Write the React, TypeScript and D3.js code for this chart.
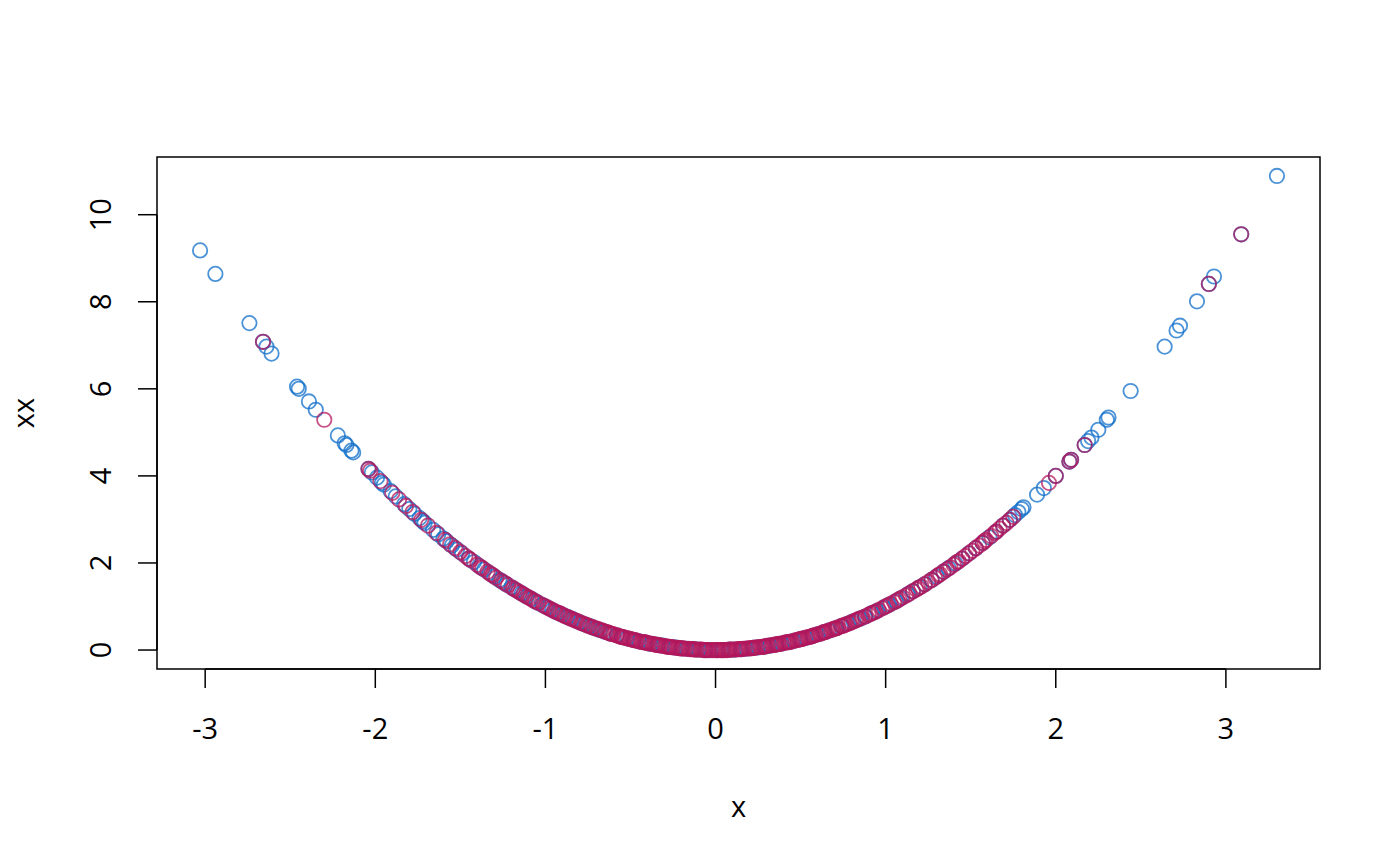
import React from "react";
import * as d3 from "d3";

// x and xx values
const blueX = [
  -3.03, -2.94, -2.74, -2.66, -2.64, -2.61, -2.46, -2.45, -2.39, -2.35, -2.22, -2.18, -2.17, -2.14, -2.13,
  -2.04, -2.02, -1.99, -1.96, -1.95, -1.91, -1.88, -1.83, -1.8, -1.77, -1.74, -1.72, -1.71, -1.66, -1.63,
  -1.6, -1.58, -1.55, -1.52, -1.49, -1.45, -1.42, -1.39, -1.36, -1.33, -1.3, -1.27, -1.25, -1.23, -1.2,
  -1.17, -1.14, -1.11, -1.08, -1.05, -1.02, -0.99, -0.96, -0.93, -0.9, -0.87, -0.84, -0.8, -0.77, -0.74,
  -0.71, -0.68, -0.65, -0.62, -0.58, -0.55, -0.52, -0.48, -0.45, -0.41, -0.38, -0.34, -0.31, -0.27, -0.24,
  -0.2, -0.17, -0.13, -0.1, -0.06, -0.03, 0.01, 0.04, 0.08, 0.11, 0.15, 0.18, 0.22, 0.25, 0.29,
  0.32, 0.36, 0.39, 0.43, 0.46, 0.5, 0.53, 0.57, 0.6, 0.64, 0.67, 0.71, 0.74, 0.78, 0.81,
  0.85, 0.88, 0.92, 0.95, 0.99, 1.02, 1.06, 1.09, 1.13, 1.16, 1.2, 1.23, 1.27, 1.3, 1.34,
  1.37, 1.41, 1.45, 1.49, 1.53, 1.57, 1.61, 1.65, 1.69, 1.73, 1.76, 1.78, 1.8, 1.81, 1.89,
  1.93, 2.0, 2.08, 2.09, 2.17, 2.19, 2.21, 2.25, 2.3, 2.31, 2.44, 2.64, 2.71, 2.73, 2.83,
  2.9, 2.93, 3.09, 3.3,
];
const blueXX = [
  9.18, 8.64, 7.51, 7.08, 6.97, 6.81, 6.05, 6.0, 5.71, 5.52, 4.93, 4.75, 4.71, 4.58, 4.54,
  4.16, 4.08, 3.96, 3.84, 3.8, 3.65, 3.53, 3.35, 3.24, 3.13, 3.03, 2.96, 2.92, 2.76, 2.66,
  2.56, 2.5, 2.4, 2.31, 2.22, 2.1, 2.02, 1.93, 1.85, 1.77, 1.69, 1.61, 1.56, 1.51, 1.44,
  1.37, 1.3, 1.23, 1.17, 1.1, 1.04, 0.98, 0.92, 0.86, 0.81, 0.76, 0.71, 0.64, 0.59, 0.55,
  0.5, 0.46, 0.42, 0.38, 0.34, 0.3, 0.27, 0.23, 0.2, 0.17, 0.14, 0.12, 0.1, 0.07, 0.06,
  0.04, 0.03, 0.02, 0.01, 0.0, 0.0, 0.0, 0.0, 0.01, 0.01, 0.02, 0.03, 0.05, 0.06, 0.08,
  0.1, 0.13, 0.15, 0.18, 0.21, 0.25, 0.28, 0.32, 0.36, 0.41, 0.45, 0.5, 0.55, 0.61, 0.66,
  0.72, 0.77, 0.85, 0.9, 0.98, 1.04, 1.12, 1.19, 1.28, 1.35, 1.44, 1.51, 1.61, 1.69, 1.8,
  1.88, 1.99, 2.1, 2.22, 2.34, 2.46, 2.59, 2.72, 2.86, 2.99, 3.1, 3.17, 3.24, 3.28, 3.57,
  3.72, 4.0, 4.33, 4.37, 4.71, 4.8, 4.88, 5.06, 5.29, 5.34, 5.95, 6.97, 7.34, 7.45, 8.01,
  8.41, 8.58, 9.55, 10.89,
];

const redX = [
  -2.66, -2.3, -2.04, -2.03, -1.97, -1.9, -1.86, -1.82, -1.78, -1.73, -1.69, -1.64, -1.59, -1.56, -1.53,
  -1.5, -1.47, -1.44, -1.4, -1.37, -1.34, -1.32, -1.29, -1.26, -1.22, -1.19, -1.16, -1.13, -1.1, -1.07,
  -1.04, -1.01, -0.98, -0.95, -0.92, -0.89, -0.86, -0.83, -0.81, -0.78, -0.75, -0.72, -0.69, -0.66, -0.63,
  -0.6, -0.57, -0.54, -0.51, -0.49, -0.46, -0.43, -0.4, -0.37, -0.35, -0.32, -0.29, -0.26, -0.23, -0.21,
  -0.18, -0.15, -0.12, -0.09, -0.07, -0.04, -0.02, 0.0, 0.03, 0.05, 0.07, 0.1, 0.13, 0.16, 0.19,
  0.21, 0.24, 0.27, 0.3, 0.33, 0.35, 0.38, 0.41, 0.44, 0.47, 0.49, 0.52, 0.55, 0.58, 0.61,
  0.63, 0.66, 0.69, 0.72, 0.75, 0.77, 0.8, 0.83, 0.86, 0.9, 0.93, 0.96, 1.0, 1.03, 1.07,
  1.1, 1.14, 1.18, 1.21, 1.25, 1.29, 1.32, 1.36, 1.4, 1.43, 1.47, 1.51, 1.55, 1.59, 1.62,
  1.64, 1.67, 1.71, 1.75, 1.96, 2.0, 2.08, 2.09, 2.17, 2.9, 3.09,
];
const redXX = [
  7.08, 5.29, 4.16, 4.12, 3.88, 3.61, 3.46, 3.31, 3.17, 2.99, 2.86, 2.69, 2.53, 2.43, 2.34,
  2.25, 2.16, 2.07, 1.96, 1.88, 1.8, 1.74, 1.66, 1.59, 1.49, 1.42, 1.35, 1.28, 1.21, 1.14,
  1.08, 1.02, 0.96, 0.9, 0.85, 0.79, 0.74, 0.69, 0.66, 0.61, 0.56, 0.52, 0.48, 0.44, 0.4,
  0.36, 0.32, 0.29, 0.26, 0.24, 0.21, 0.18, 0.16, 0.14, 0.12, 0.1, 0.08, 0.07, 0.05, 0.04,
  0.03, 0.02, 0.01, 0.01, 0.0, 0.0, 0.0, 0.0, 0.0, 0.0, 0.0, 0.01, 0.02, 0.03, 0.04,
  0.04, 0.06, 0.07, 0.09, 0.11, 0.12, 0.14, 0.17, 0.19, 0.22, 0.24, 0.27, 0.3, 0.34, 0.37,
  0.4, 0.44, 0.48, 0.52, 0.56, 0.59, 0.64, 0.69, 0.74, 0.81, 0.86, 0.92, 1.0, 1.06, 1.14,
  1.21, 1.3, 1.39, 1.46, 1.56, 1.66, 1.74, 1.85, 1.96, 2.04, 2.16, 2.28, 2.4, 2.53, 2.62,
  2.69, 2.79, 2.92, 3.06, 3.84, 4.0, 4.33, 4.37, 4.71, 8.41, 9.55,
];

// further red points in the dense middle of the curve
const redX2 = [
  -1.45, -1.38, -1.31, -1.24, -1.18, -1.12, -1.06, -1.0, -0.94, -0.88, -0.85, -0.79, -0.76, -0.7, -0.67,
  -0.64, -0.61, -0.58, -0.55, -0.53, -0.5, -0.47, -0.44, -0.42, -0.39, -0.36, -0.33, -0.3, -0.28, -0.25,
  -0.22, -0.19, -0.16, -0.14, -0.11, -0.08, -0.05, -0.01, 0.02, 0.04, 0.06, 0.09, 0.12, 0.14, 0.17,
  0.2, 0.23, 0.26, 0.28, 0.31, 0.34, 0.37, 0.4, 0.42, 0.45, 0.48, 0.51, 0.54, 0.56, 0.59,
  0.62, 0.65, 0.68, 0.71, 0.74, 0.79, 0.82, 0.88, 0.94, 0.98, 1.05, 1.12, 1.16, 1.23, 1.27,
  1.34, 1.38, 1.45, 1.53, 1.58, 1.69, 1.73,
];
const redXX2 = [
  2.1, 1.9, 1.72, 1.54, 1.39, 1.25, 1.12, 1.0, 0.88, 0.77, 0.72, 0.62, 0.58, 0.49, 0.45,
  0.41, 0.37, 0.34, 0.3, 0.28, 0.25, 0.22, 0.19, 0.18, 0.15, 0.13, 0.11, 0.09, 0.08, 0.06,
  0.05, 0.04, 0.03, 0.02, 0.01, 0.01, 0.0, 0.0, 0.0, 0.0, 0.0, 0.01, 0.01, 0.02, 0.03,
  0.04, 0.05, 0.07, 0.08, 0.1, 0.12, 0.14, 0.16, 0.18, 0.2, 0.23, 0.26, 0.29, 0.31, 0.35,
  0.38, 0.42, 0.46, 0.5, 0.55, 0.62, 0.67, 0.77, 0.88, 0.96, 1.1, 1.25, 1.35, 1.51, 1.61,
  1.8, 1.9, 2.1, 2.34, 2.5, 2.86, 2.99,
];

const redX3 = [
  -1.15, -1.09, -0.97, -0.91, -0.82, -0.73, -0.62, -0.56, -0.48, -0.41, -0.34, -0.27, -0.2, -0.13, -0.06,
  0.01, 0.08, 0.15, 0.22, 0.29, 0.36, 0.43, 0.5, 0.57, 0.64, 0.7, 0.76, 0.84, 0.91, 1.01,
  1.08, 1.19, 1.31, 1.42, 1.49, 1.57, 1.65,
];
const redXX3 = [
  1.32, 1.19, 0.94, 0.83, 0.67, 0.53, 0.38, 0.31, 0.23, 0.17, 0.12, 0.07, 0.04, 0.02, 0.0,
  0.0, 0.01, 0.02, 0.05, 0.08, 0.13, 0.18, 0.25, 0.32, 0.41, 0.49, 0.58, 0.71, 0.83, 1.02,
  1.17, 1.42, 1.72, 2.02, 2.22, 2.46, 2.72,
];

const xTicks = [-3, -2, -1, 0, 1, 2, 3];
const yTicks = [0, 2, 4, 6, 8, 10];
const xTitle = "x";
const yTitle = "xx";

const W = 1400;
const H = 866;
const box = { left: 157, right: 1320, top: 157, bottom: 669 };
const FONT = "'Open Sans', 'Noto Sans', sans-serif";
const BLUE = "#0f6dc8";
const RED = "#b3155a";

export default function App() {
  const allX = blueX.concat(redX, redX2, redX3);
  const allY = blueXX.concat(redXX, redXX2, redXX3);
  const xExtent = d3.extent(allX) as [number, number];
  const yExtent = d3.extent(allY) as [number, number];
  const xPad = (xExtent[1] - xExtent[0]) * 0.04;
  const yPad = (yExtent[1] - yExtent[0]) * 0.04;
  const x = d3.scaleLinear().domain([xExtent[0] - xPad, xExtent[1] + xPad]).range([box.left, box.right]);
  const y = d3.scaleLinear().domain([yExtent[0] - yPad, yExtent[1] + yPad]).range([box.bottom, box.top]);

  const blue = blueX.map((v, i) => ({ x: v, y: blueXX[i] }));
  const red = redX
    .map((v, i) => ({ x: v, y: redXX[i] }))
    .concat(redX2.map((v, i) => ({ x: v, y: redXX2[i] })))
    .concat(redX3.map((v, i) => ({ x: v, y: redXX3[i] })));

  return (
    <svg width={W} height={H} style={{ position: "absolute", left: 0, top: 0, background: "#fff" }} fontFamily={FONT}>
      <rect x={0} y={0} width={W} height={H} fill="#fff" />
      <g fill="none" strokeWidth={1.8}>
        {blue.map((d, i) => (
          <circle key={"b" + i} cx={x(d.x)} cy={y(d.y)} r={7.2} stroke={BLUE} strokeOpacity={0.75} />
        ))}
        {red.map((d, i) => (
          <circle key={"r" + i} cx={x(d.x)} cy={y(d.y)} r={7.2} stroke={RED} strokeOpacity={0.74} />
        ))}
      </g>
      <rect x={box.left} y={box.top} width={box.right - box.left} height={box.bottom - box.top} fill="none" stroke="#000" strokeWidth={1.5} />
      <g stroke="#000" strokeWidth={1.5}>
        <line x1={x(xTicks[0])} x2={x(xTicks[xTicks.length - 1])} y1={box.bottom} y2={box.bottom} />
        {xTicks.map((t) => (
          <line key={"xt" + t} x1={x(t)} x2={x(t)} y1={box.bottom} y2={box.bottom + 19} />
        ))}
        <line x1={box.left} x2={box.left} y1={y(yTicks[0])} y2={y(yTicks[yTicks.length - 1])} />
        {yTicks.map((t) => (
          <line key={"yt" + t} x1={box.left - 19} x2={box.left} y1={y(t)} y2={y(t)} />
        ))}
      </g>
      <g fontSize={29} fill="#000" textAnchor="middle">
        {xTicks.map((t) => (
          <text key={"xl" + t} x={x(t)} y={739}>
            {t}
          </text>
        ))}
        {yTicks.map((t) => (
          <text key={"yl" + t} transform={`translate(111,${y(t)}) rotate(-90)`}>
            {t}
          </text>
        ))}
        <text x={(box.left + box.right) / 2} y={817}>
          {xTitle}
        </text>
        <text transform={`translate(34,${(box.top + box.bottom) / 2}) rotate(-90)`}>{yTitle}</text>
      </g>
    </svg>
  );
}
